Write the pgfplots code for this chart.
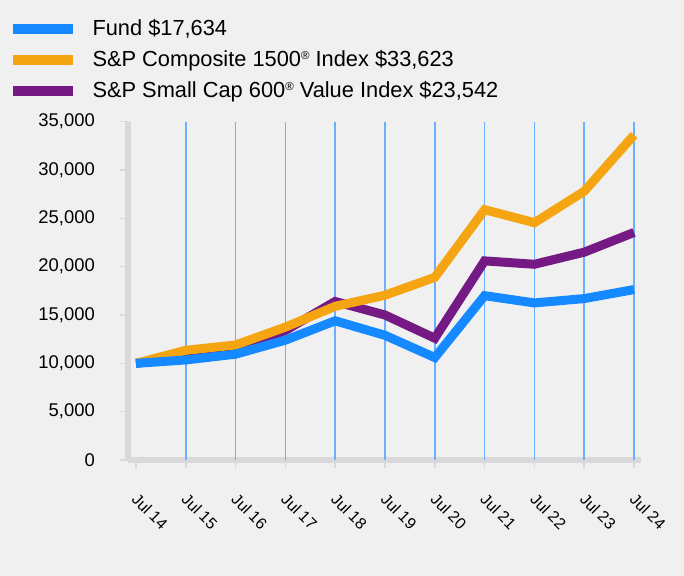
\documentclass[border=0pt]{standalone}
\usepackage{fontspec}
\setmainfont{Liberation Sans}
\usepackage{pgfplots}
\pgfplotsset{compat=1.18}
\definecolor{bgc}{HTML}{F0F0F0}
\definecolor{axgray}{HTML}{D9D9D9}
\definecolor{gridblue}{HTML}{6AB0FF}
\definecolor{fundblue}{HTML}{1589FF}
\definecolor{spgold}{HTML}{F5A511}
\definecolor{sppurple}{HTML}{751A84}
\newcommand{\reg}{\raisebox{7.5bp}{\fontsize{11.5}{11.5}\selectfont\textregistered}}
\begin{document}
\begin{tikzpicture}
\fill[bgc] (-128bp,-116bp) rectangle (556bp,460bp);
\begin{axis}[
    scale only axis,
    width=513bp, height=338.3bp,
    at={(0,0)}, anchor=south west,
    xmin=-0.16, xmax=10.14,
    ymin=0, ymax=35000,
    axis lines=left,
    axis line style={-, draw=axgray, line width=6bp},
    tick align=outside,
    major tick length=8bp,
    tick style={draw=axgray, line width=1.5bp},
    xtick={0,...,10},
    xticklabels={Jul 14,Jul 15,Jul 16,Jul 17,Jul 18,Jul 19,Jul 20,Jul 21,Jul 22,Jul 23,Jul 24},
    extra x ticks={1,...,10},
    extra x tick labels={},
    extra x tick style={xmajorgrids=true, major tick length=0pt},
    major grid style={draw=gridblue, line width=1.6bp},
    ytick={0,5000,...,35000},
    scaled y ticks=false,
    /pgf/number format/.cd, 1000 sep={,}, assume math mode=true, /pgfplots/.cd,
    yticklabel style={font=\fontsize{18.5}{20}\selectfont, anchor=east, inner sep=0pt, xshift=-25bp},
    xticklabel style={font=\fontsize{16}{18}\selectfont, inner sep=0pt, xshift=3bp, yshift=-24bp, rotate=-45, anchor=north west},
    clip=false,
    legend style={at={(axis description cs:-0.2339,1.3006)}, anchor=north west,
        draw=none, fill=none, inner sep=0pt, outer sep=0pt,
        row sep=11bp, column sep=0pt,
        font=\fontsize{21.9}{25}\selectfont,
        nodes={inner sep=0pt, text height=15.5bp, text depth=4.5bp}},
    legend image code/.code={\draw[#1, line width=10bp] (0bp,1.5bp) -- (60bp,1.5bp); \path (75bp,0bp);},
    legend cell align=left,
    reverse legend,
    every axis plot/.append style={line width=9bp, line join=miter, mark=none},
]
\addplot[sppurple] coordinates {
    (0,10000) (1,10700) (2,11400) (3,13400) (4,16400) (5,15000)
    (6,12600) (7,20600) (8,20250) (9,21500) (10,23542)
};
\addplot[spgold] coordinates {
    (0,10000) (1,11350) (2,11900) (3,13750) (4,15900) (5,17050)
    (6,18900) (7,25900) (8,24550) (9,27800) (10,33623)
};
\addplot[fundblue] coordinates {
    (0,10000) (1,10350) (2,10950) (3,12400) (4,14400) (5,12900)
    (6,10600) (7,17000) (8,16250) (9,16700) (10,17634)
};
\legend{{S\&P Small Cap 600\reg{} Value Index \$23,542},
        {S\&P Composite 1500\reg{} Index \$33,623},
        {Fund \$17,634}}
\end{axis}
\end{tikzpicture}
\end{document}
